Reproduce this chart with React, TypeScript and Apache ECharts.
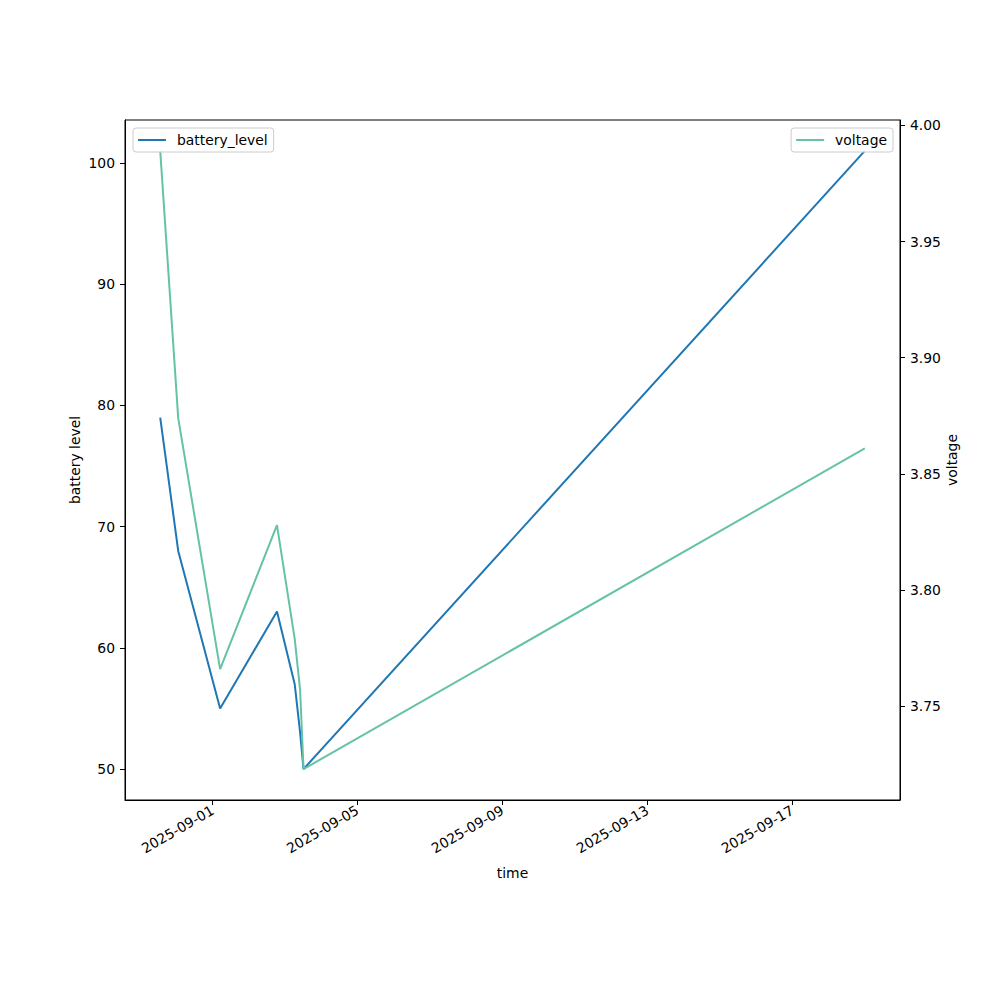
import React, { useEffect, useRef } from "react";
import * as echarts from "echarts";

const times = [
  "2025-08-30T13:20:00Z",
  "2025-08-31T01:15:00Z",
  "2025-09-01T05:00:00Z",
  "2025-09-02T18:40:00Z",
  "2025-09-03T06:25:00Z",
  "2025-09-03T10:00:00Z",
  "2025-09-03T12:15:00Z",
  "2025-09-19T00:00:00Z",
];
const batteryLevel = [79, 68, 55, 63, 57, 53, 50, 101];
const voltage = [3.989, 3.874, 3.766, 3.828, 3.779, 3.757, 3.723, 3.861];

const xTickLabels = ["2025-09-01", "2025-09-05", "2025-09-09", "2025-09-13", "2025-09-17"];
const batteryTicks = [50, 60, 70, 80, 90, 100];
const voltageTicks = [3.75, 3.8, 3.85, 3.9, 3.95, 4.0];

const FONT = "DejaVu Sans";
const FS = 13.9;

function padRange(vals: number[]) {
  const lo = Math.min(...vals);
  const hi = Math.max(...vals);
  const m = (hi - lo) * 0.05;
  return [lo - m, hi + m];
}

export default function App() {
  const ref = useRef<HTMLDivElement>(null);
  useEffect(() => {
    document.body.style.margin = "0";
    if (!ref.current) return;
    const chart = echarts.init(ref.current, null, { renderer: "svg" });
    const tms = times.map((t) => Date.parse(t));
    const [xMin, xMax] = padRange(tms);
    const [bMin, bMax] = padRange(batteryLevel);
    const [vMin, vMax] = padRange(voltage);
    const xTicks = xTickLabels.map((d) => Date.parse(d + "T00:00:00Z"));
    const textBase = { fontFamily: FONT, fontSize: FS, color: "#000" };
    const legendBase = {
      orient: "horizontal",
      top: 128,
      icon: "rect",
      itemWidth: 28,
      itemHeight: 2,
      borderColor: "#cccccc",
      borderWidth: 1,
      borderRadius: 3,
      backgroundColor: "rgba(255,255,255,0.8)",
      padding: [5, 6, 5, 5],
      textStyle: { ...textBase, padding: [0, 0, 0, 6] },
    };
    chart.setOption({
      animation: false,
      grid: {
        left: 125,
        right: 100,
        top: 120,
        bottom: 200,
        show: true,
        borderColor: "#000",
        borderWidth: 1,
        backgroundColor: "transparent",
        outerBoundsMode: "none",
      },
      legend: [
        { ...legendBase, left: 133, data: ["battery_level"] },
        { ...legendBase, right: 107, data: ["voltage"] },
      ],
      xAxis: {
        type: "value",
        min: xMin,
        max: xMax,
        scale: true,
        name: "time",
        nameLocation: "middle",
        nameGap: 66,
        nameMoveOverlap: false,
        nameTextStyle: textBase,
        axisLine: { show: true, onZero: false, lineStyle: { color: "#000", width: 1 } },
        axisTick: { show: true, length: 5, customValues: xTicks, lineStyle: { color: "#000" } },
        axisLabel: {
          ...textBase,
          customValues: xTicks,
          rotate: 30,
          margin: 9,
          formatter: (v: number) => new Date(v).toISOString().slice(0, 10),
        },
        splitLine: { show: false },
      },
      yAxis: [
        {
          type: "value",
          position: "left",
          min: bMin,
          max: bMax,
          name: "battery level",
          nameLocation: "middle",
          nameGap: 43,
          nameMoveOverlap: false,
          nameRotate: 90,
          nameTextStyle: textBase,
          axisLine: { show: true, lineStyle: { color: "#000", width: 1 } },
          axisTick: { show: true, length: 5, customValues: batteryTicks, lineStyle: { color: "#000" } },
          axisLabel: { ...textBase, customValues: batteryTicks, margin: 10 },
          splitLine: { show: false },
        },
        {
          type: "value",
          position: "right",
          min: vMin,
          max: vMax,
          name: "voltage",
          nameLocation: "middle",
          nameGap: 45,
          nameMoveOverlap: false,
          nameRotate: 90,
          nameTextStyle: textBase,
          axisLine: { show: true, lineStyle: { color: "#000", width: 1 } },
          axisTick: { show: true, length: 5, customValues: voltageTicks, lineStyle: { color: "#000" } },
          axisLabel: {
            ...textBase,
            customValues: voltageTicks,
            margin: 10,
            formatter: (v: number) => v.toFixed(2),
          },
          splitLine: { show: false },
        },
      ],
      series: [
        {
          name: "battery_level",
          type: "line",
          yAxisIndex: 0,
          data: tms.map((t, i) => [t, batteryLevel[i]]),
          symbol: "none",
          lineStyle: { color: "#1f77b4", width: 2 },
          itemStyle: { color: "#1f77b4" },
        },
        {
          name: "voltage",
          type: "line",
          yAxisIndex: 1,
          data: tms.map((t, i) => [t, voltage[i]]),
          symbol: "none",
          lineStyle: { color: "#66c2a5", width: 2 },
          itemStyle: { color: "#66c2a5" },
        },
      ],
    });
    return () => chart.dispose();
  }, []);
  return <div ref={ref} style={{ width: 1000, height: 1000 }} />;
}
